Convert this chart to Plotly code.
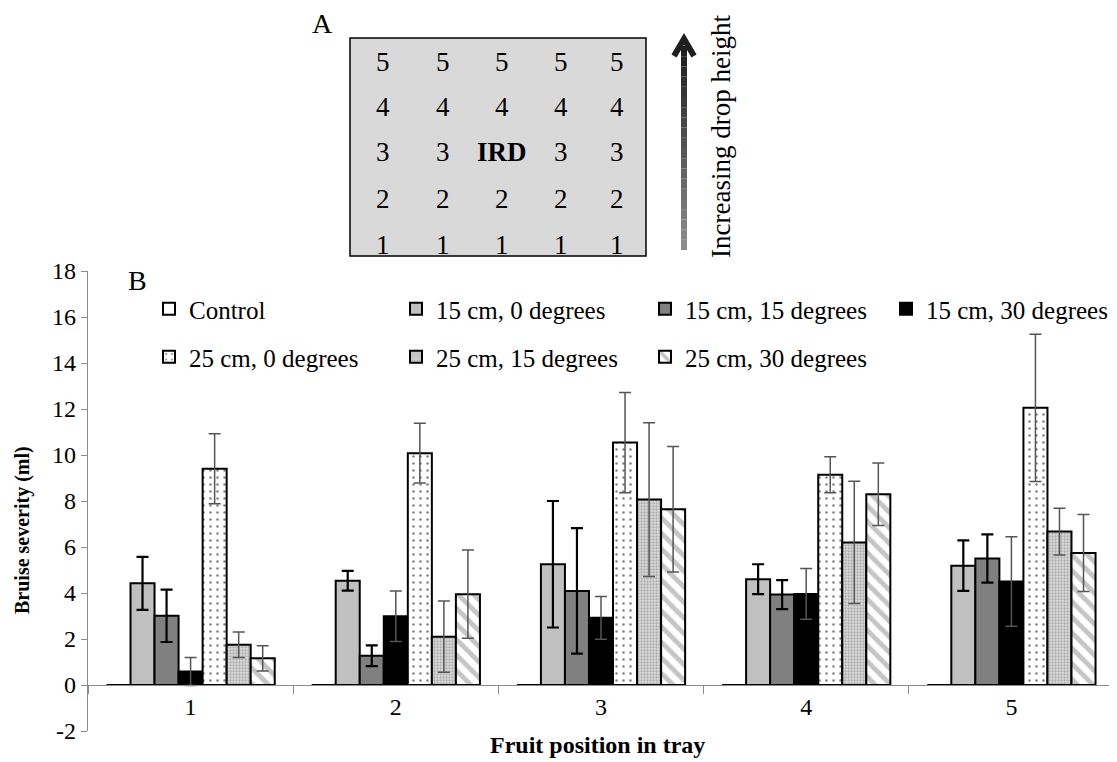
import plotly.graph_objects as go

positions = ["1", "2", "3", "4", "5"]
series_names = ["Control", "15 cm, 0 degrees", "15 cm, 15 degrees", "15 cm, 30 degrees",
                "25 cm, 0 degrees", "25 cm, 15 degrees", "25 cm, 30 degrees"]

control = [0, 0, 0, 0, 0]
cm15_deg0 = [4.42, 4.53, 5.25, 4.60, 5.19]
cm15_deg15 = [3.01, 1.27, 4.09, 3.93, 5.50]
cm15_deg30 = [0.59, 2.99, 2.92, 3.96, 4.50]
cm25_deg0 = [9.40, 10.08, 10.54, 9.14, 12.05]
cm25_deg15 = [1.75, 2.10, 8.06, 6.20, 6.67]
cm25_deg30 = [1.16, 3.95, 7.64, 8.29, 5.74]

err_control = [0, 0, 0, 0, 0]
err_cm15_deg0 = [1.15, 0.43, 2.75, 0.65, 1.10]
err_cm15_deg15 = [1.14, 0.45, 2.73, 0.63, 1.05]
err_cm15_deg30 = [0.61, 1.10, 0.93, 1.10, 1.95]
err_cm25_deg0 = [1.52, 1.30, 2.18, 0.78, 3.20]
err_cm25_deg15 = [0.55, 1.55, 3.34, 2.66, 1.02]
err_cm25_deg30 = [0.55, 1.92, 2.73, 1.36, 1.67]

y_tick_values = [-2, 0, 2, 4, 6, 8, 10, 12, 14, 16, 18]
y_tick_labels = ["-2", "0", "2", "4", "6", "8", "10", "12", "14", "16", "18"]

tray_rows = ["5", "4", "3", "2", "1"]
tray_cols = 5
center_label = "IRD"

# The page body adds an 8px margin, so the figure is drawn 8px smaller and
# every reference pixel position is shifted by that offset.
OFF = 8
W, H = 1117 - OFF, 762 - OFF
PX0, PX1, PY0, PY1 = 88, 1114, 271, 731  # plot area in reference pixels


def px(x):
    return (x - PX0) / (PX1 - PX0)


def py(y):
    return (PY1 - y) / (PY1 - PY0)


FONT = "Liberation Serif"

values = [control, cm15_deg0, cm15_deg15, cm15_deg30, cm25_deg0, cm25_deg15, cm25_deg30]
errors = [err_control, err_cm15_deg0, err_cm15_deg15, err_cm15_deg30, err_cm25_deg0,
          err_cm25_deg15, err_cm25_deg30]

styles = [
    dict(color="white", pattern=None, ecol="#000000", eth=2),
    dict(color="#c0c0c0", pattern=None, ecol="#000000", eth=2.2),
    dict(color="#808080", pattern=None, ecol="#000000", eth=2.2),
    dict(color="#000000", pattern=None, ecol="#555555", eth=1.5),
    dict(color="white", pattern=dict(shape=".", fgcolor="#000000", bgcolor="white",
                                     size=7, solidity=0.1, fillmode="overlay"), ecol="#555555", eth=1.5),
    dict(color="#d0d0d0", pattern=dict(shape=".", fgcolor="#7a7a7a", bgcolor="#dcdcdc",
                                       size=3, solidity=0.45, fillmode="overlay"), ecol="#555555", eth=1.5),
    dict(color="white", pattern=dict(shape="\\", fgcolor="#8c8c8c", bgcolor="white",
                                     size=11, solidity=0.45, fillmode="overlay"), ecol="#555555", eth=1.5),
]

# legend text start positions (reference pixels) for each series
legend_text_x = [189, 436, 685, 926, 189, 436, 685]
legend_text_y = [309, 309, 309, 309, 357, 357, 357]

fig = go.Figure()
legend_layouts = {}
for i, (name, vals, errs, st) in enumerate(zip(series_names, values, errors, styles)):
    marker = dict(color=st["color"], line=dict(color="black", width=2))
    if st["pattern"] is not None:
        marker["pattern"] = st["pattern"]
    lname = "legend" if i == 0 else f"legend{i + 1}"
    fig.add_trace(go.Bar(
        x=positions, y=vals, name=name, marker=marker,
        error_y=dict(type="data", array=errs, visible=(i > 0), color=st["ecol"],
                     thickness=st["eth"], width=6),
        legend=lname,
    ))
    legend_layouts[lname] = dict(
        orientation="v", x=px(legend_text_x[i] - 40), y=py(legend_text_y[i]),
        xanchor="left", yanchor="middle", font=dict(family=FONT, size=25, color="black"),
        bgcolor="rgba(0,0,0,0)", borderwidth=0, itemclick=False, itemdoubleclick=False,
    )

fig.update_layout(
    width=W, height=H,
    margin=dict(l=PX0 - OFF, r=W - (PX1 - OFF), t=PY0 - OFF, b=H - (PY1 - OFF), autoexpand=False),
    plot_bgcolor="white", paper_bgcolor="white",
    barmode="group", bargap=0.18, bargroupgap=0,
    font=dict(family=FONT, size=24, color="#000000"),
    showlegend=True,
    **legend_layouts,
)

fig.update_yaxes(range=[-2, 18], tickvals=y_tick_values, ticktext=y_tick_labels,
                 showgrid=False, zeroline=False,
                 showline=True, linecolor="#8c8c8c", linewidth=1.2,
                 ticks="outside", ticklen=6, tickcolor="#8c8c8c",
                 tickfont=dict(family=FONT, size=24, color="#000000"))
fig.update_xaxes(anchor="free", position=0.1, showgrid=False, zeroline=False,
                 showline=True, linecolor="#8c8c8c", linewidth=1.2,
                 ticks="outside", ticklen=8, tickcolor="#8c8c8c", tickson="boundaries",
                 tickfont=dict(family=FONT, size=24, color="#000000"))

ann = []
# axis titles
ann.append(dict(text="<b>Fruit position in tray</b>", x=px(597), y=py(745), xref="paper", yref="paper",
                showarrow=False, font=dict(family=FONT, size=24), xanchor="center", yanchor="middle"))
ann.append(dict(text="<b>Bruise severity (ml)</b>", x=px(22), y=py(530), xref="paper", yref="paper",
                showarrow=False, textangle=-90, font=dict(family=FONT, size=20),
                xanchor="center", yanchor="middle"))
# panel labels
ann.append(dict(text="B", x=px(137), y=py(280), xref="paper", yref="paper", showarrow=False,
                font=dict(family=FONT, size=28), xanchor="center", yanchor="middle"))
ann.append(dict(text="A", x=px(322), y=py(23), xref="paper", yref="paper", showarrow=False,
                font=dict(family=FONT, size=28), xanchor="center", yanchor="middle"))

shapes = []
# tray diagram
shapes.append(dict(type="rect", xref="paper", yref="paper", x0=px(350), x1=px(646),
                   y0=py(256), y1=py(38), fillcolor="#d9d9d9", line=dict(color="black", width=1.5),
                   layer="above"))
col_x = [383, 443, 502, 561, 617]
row_y = [62, 107, 152, 199, 245]
for r, lab in enumerate(tray_rows):
    for c in range(tray_cols):
        if lab == "3" and c == 2:
            text = "<b>" + center_label + "</b>"
        else:
            text = lab
        ann.append(dict(text=text, x=px(col_x[c]), y=py(row_y[r]), xref="paper", yref="paper",
                        showarrow=False, font=dict(family=FONT, size=27), xanchor="center",
                        yanchor="middle"))

# gradient arrow
n_seg = 20
y_bot, y_top = 250, 46
for k in range(n_seg):
    ya = y_bot - (y_bot - y_top) * k / n_seg
    yb = y_bot - (y_bot - y_top) * (k + 1) / n_seg
    g = int(140 - 110 * k / (n_seg - 1))
    shapes.append(dict(type="line", xref="paper", yref="paper", x0=px(684), x1=px(684),
                       y0=py(ya), y1=py(yb), line=dict(color=f"rgb({g},{g},{g})", width=6)))
shapes.append(dict(type="path", xref="paper", yref="paper",
                   path=f"M {px(674)} {py(56)} L {px(684)} {py(39)} L {px(694)} {py(56)}",
                   line=dict(color="#1e1e1e", width=6)))
ann.append(dict(text="Increasing drop height", x=px(721), y=py(137), xref="paper", yref="paper",
                showarrow=False, textangle=-90, font=dict(family=FONT, size=27),
                xanchor="center", yanchor="middle"))

fig.update_layout(annotations=ann, shapes=shapes)
fig.write_html("out.html")
